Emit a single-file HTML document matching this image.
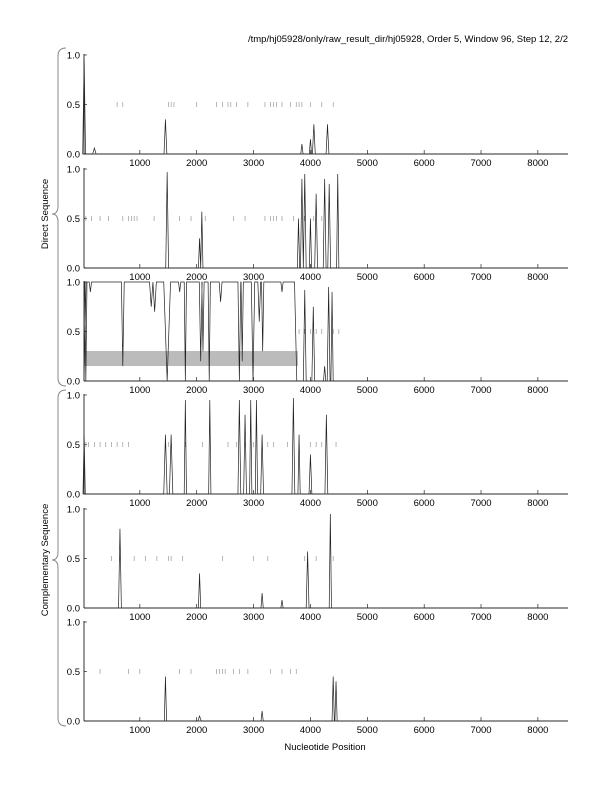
<!DOCTYPE html>
<html><head><meta charset="utf-8"><style>
html,body{margin:0;padding:0;background:#fff}
svg{display:block}
text{font-family:"Liberation Sans",sans-serif;font-size:9.5px;fill:#000}
</style></head><body>
<svg id="s" width="612" height="792" viewBox="0 0 612 792" xmlns="http://www.w3.org/2000/svg">
<text x="568" y="42" text-anchor="end">/tmp/hj05928/only/raw_result_dir/hj05928, Order 5, Window 96, Step 12, 2/2</text>
<text x="325" y="750" text-anchor="middle">Nucleotide Position</text>
<text transform="translate(48,214) rotate(-90)" text-anchor="middle">Direct Sequence</text>
<text transform="translate(48,560) rotate(-90)" text-anchor="middle">Complementary Sequence</text>
<path d="M66,48 Q58,48 58,56 L58,206 Q58,214 52,214 Q58,214 58,222 L58,378 Q58,386 66,386" fill="none" stroke="#888" stroke-width="1"/>
<path d="M66,390 Q58,390 58,398 L58,552 Q58,560 52,560 Q58,560 58,568 L58,718 Q58,726 66,726" fill="none" stroke="#888" stroke-width="1"/>
<rect x="84" y="351" width="214" height="15" fill="#bbb"/>
<g id="g"></g>
</svg>
<script>
var g=document.getElementById('g'),h='';
function X(v){return 83+v*0.05686}
var bots=[154,268,381,494,608,721];
var peaks=[
[[20,0.97,25],[200,0.06,30],[1450,0.35,25],[3850,0.1,20],[4000,0.15,20],[4060,0.3,25],[4300,0.3,25]],
[[1480,0.97,25],[2050,0.3,20],[2090,0.57,20],[3790,0.5,20],[3850,0.9,25],[3900,0.95,25],[4000,0.5,20],[4100,0.75,25],[4250,0.9,25],[4330,0.85,25],[4480,0.95,20]],
[[3900,0.92,25],[4050,0.75,25],[4250,0.15,20],[4320,0.95,25],[4380,0.9,20]],
[[20,0.6,20],[1450,0.6,30],[1550,0.6,30],[1800,0.95,20],[2230,0.95,20],[2750,0.95,25],[2850,0.8,25],[2950,0.95,20],[3050,0.95,20],[3150,0.6,25],[3700,0.97,25],[3800,0.6,20],[4000,0.4,25],[4280,0.8,25]],
[[650,0.8,25],[2050,0.35,20],[3150,0.15,20],[3500,0.08,20],[3950,0.57,25],[4350,0.95,20]],
[[1450,0.45,20],[2050,0.05,30],[3150,0.1,20],[4400,0.45,20],[4450,0.4,20]]
];
var ticks=[
[600,700,1500,1550,1600,2000,2350,2450,2550,2600,2700,2900,3200,3300,3350,3400,3500,3650,3750,3800,3850,4000,4200,4400],
[50,150,300,450,700,800,850,900,950,1250,1700,1900,2150,2650,2850,3200,3300,3350,3400,3500,3700,3900,4050,4200],
[3800,3900,4000,4100,4200,4400,4500],
[50,100,200,300,400,500,600,700,800,1500,1800,2100,2550,2700,2850,3000,3150,3250,3350,3600,3800,4000,4100,4200,4450],
[500,650,900,1100,1300,1500,1550,1750,2450,3000,3250,3900,4100,4400],
[300,800,1000,1700,1900,2350,2400,2450,2500,2650,2750,2900,3300,3500,3650,3750]
];
for(var p=0;p<6;p++){
 var b=bots[p],t=b-99;
 // axes
 h+='<line x1="84" y1="'+(t-1)+'" x2="84" y2="'+b+'" stroke="#000" stroke-width="0.8"/>';
 h+='<line x1="84" y1="'+b+'" x2="568" y2="'+b+'" stroke="#000" stroke-width="0.8"/>';
 [0,0.5,1].forEach(function(v,i){var y=b-v*99;h+='<line x1="84" y1="'+y+'" x2="87" y2="'+y+'" stroke="#000" stroke-width="0.6"/><text x="80" y="'+(y+3.5)+'" text-anchor="end">'+['0.0','0.5','1.0'][i]+'</text>';});
 for(var k=1;k<=8;k++){var x=X(k*1000);h+='<line x1="'+x+'" y1="'+b+'" x2="'+x+'" y2="'+(b-4)+'" stroke="#000" stroke-width="0.6"/><text x="'+x+'" y="'+(b+12)+'" text-anchor="middle">'+(k*1000)+'</text>';}
 for(var k=0;k<ticks[p].length;k++){var x=X(ticks[p][k]);h+='<line x1="'+x+'" y1="'+(b-47)+'" x2="'+x+'" y2="'+(b-52)+'" stroke="#888" stroke-width="0.6"/>';}
 // peaks
 var d='M84,'+b;
 var pk=peaks[p];
 pk.forEach(function(q){var c=X(q[0]),w=q[2]*0.05686;d+=' L'+(c-w)+','+b+' L'+c+','+(b-q[1]*99)+' L'+(c+w)+','+b;});
 d+=' L568,'+b;
 h+='<path d="'+d+'" fill="none" stroke="#222" stroke-width="0.7"/>';
 if(p==2){
  var dips=[[50,0,20],[130,0.9,20],[700,0.15,25],[1200,0.75,30],[1260,0.7,30],[1480,0,60],[1700,0.9,20],[1800,0,20],[2070,0.2,25],[2110,0.3,20],[2220,0,20],[2420,0.8,25],[2750,0,25],[2800,0.2,20],[2990,0,30],[3100,0.6,25],[3160,0.3,20],[3500,0.9,20]];
  var e='M84,'+b+' L86,'+t;
  dips.forEach(function(q){var c=X(q[0]),w=q[2]*0.05686;e+=' L'+(c-w)+','+t+' L'+c+','+(b-q[1]*99)+' L'+(c+w)+','+t;});
  e+=' L'+X(3720)+','+t+' L'+X(3760)+','+b;
  h+='<path d="'+e+'" fill="none" stroke="#222" stroke-width="0.7"/>';
 }
}
g.innerHTML=h;
</script>
</body></html>
